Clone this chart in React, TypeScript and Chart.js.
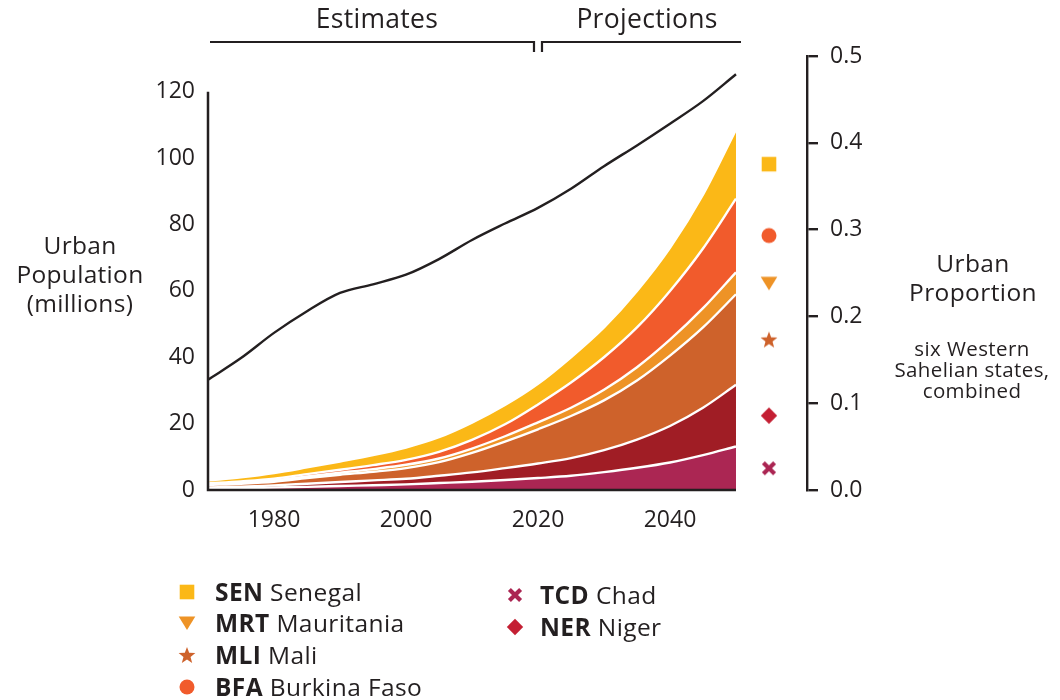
import React, { useEffect, useRef } from "react";
import { Chart, registerables } from "chart.js";

Chart.register(...registerables);

// ---------- data ----------
const years = [1970, 1975, 1980, 1985, 1990, 1995, 2000, 2005, 2010, 2015, 2020, 2025, 2030, 2035, 2040, 2045, 2050];
// urban population, millions (stacked bottom -> top)
const TCD = [0.4, 0.55, 0.75, 0.95, 1.2, 1.45, 1.7, 2.1, 2.5, 3.0, 3.6, 4.3, 5.4, 6.7, 8.3, 10.5, 13.1];
const NER = [0.4, 0.45, 0.65, 0.95, 1.2, 1.45, 1.7, 2.2, 2.8, 3.6, 4.4, 5.3, 6.6, 8.5, 11.0, 14.3, 18.6];
const MLI = [0.7, 0.9, 1.1, 1.7, 2.2, 2.6, 3.2, 4.1, 5.9, 8.0, 10.3, 12.7, 15.0, 17.8, 21.2, 24.2, 27.3];
const MRT = [0.2, 0.3, 0.4, 0.5, 0.6, 0.8, 1.0, 1.1, 1.3, 1.6, 2.1, 2.5, 3.2, 4.0, 4.8, 5.8, 6.6];
const BFA = [0.3, 0.4, 0.5, 0.7, 0.9, 1.2, 1.5, 2.0, 2.6, 3.6, 5.4, 7.6, 9.8, 12.0, 14.7, 18.0, 22.2];
const SEN = [0.8, 1.2, 1.7, 2.0, 2.5, 3.0, 3.7, 4.4, 5.2, 5.8, 6.2, 7.6, 9.0, 11.0, 13.0, 16.2, 20.8];
// urban proportion, six states combined (right axis)
const urbanProportion = [0.127, 0.152, 0.181, 0.206, 0.227, 0.237, 0.248, 0.266, 0.288, 0.307, 0.325, 0.347, 0.373, 0.397, 0.422, 0.448, 0.479];

const leftTicks = [0, 20, 40, 60, 80, 100, 120];
const rightTicks = [0, 0.1, 0.2, 0.3, 0.4, 0.5];
const xTicks = [1980, 2000, 2020, 2040];
const markerYear = 2055;

const INK = "#231f20";
const FONT = "'Open Sans', 'Noto Sans', sans-serif";

type Shape = "square" | "circle" | "triangleDown" | "star" | "diamond" | "cross";

const starPath = (() => {
  const pts: string[] = [];
  for (let i = 0; i < 10; i++) {
    const r = i % 2 === 0 ? 8.8 : 3.7;
    const a = -Math.PI / 2 + (i * Math.PI) / 5;
    pts.push(`${(r * Math.cos(a)).toFixed(2)},${(r * Math.sin(a) + 0.8).toFixed(2)}`);
  }
  return "M" + pts.join("L") + "Z";
})();

const SHAPE_PATHS: Record<Shape, string> = {
  square: "M-7.3,-7.3H7.3V7.3H-7.3Z",
  circle: "M-7.5,0A7.5,7.5 0 1,0 7.5,0A7.5,7.5 0 1,0 -7.5,0Z",
  triangleDown: "M-8.3,-6.5L8.3,-6.5L0,7Z",
  star: starPath,
  diamond: "M0,-8.2L8.2,0L0,8.2L-8.2,0Z",
  cross: "M-5.6,-5.6L5.6,5.6M5.6,-5.6L-5.6,5.6",
};

type Band = { code: string; name: string; data: number[]; fill: string; marker: string; shape: Shape };

// bottom -> top
const bands: Band[] = [
  { code: "TCD", name: "Chad", data: TCD, fill: "#AB2653", marker: "#AB2653", shape: "cross" },
  { code: "NER", name: "Niger", data: NER, fill: "#A01D25", marker: "#C41F33", shape: "diamond" },
  { code: "MLI", name: "Mali", data: MLI, fill: "#CE622B", marker: "#CE622B", shape: "star" },
  { code: "MRT", name: "Mauritania", data: MRT, fill: "#EE9326", marker: "#EE9326", shape: "triangleDown" },
  { code: "BFA", name: "Burkina Faso", data: BFA, fill: "#F15B2C", marker: "#F15B2C", shape: "circle" },
  { code: "SEN", name: "Senegal", data: SEN, fill: "#FBB817", marker: "#FBB817", shape: "square" },
];

function makeMarkerCanvas(shape: Shape, color: string): HTMLCanvasElement {
  const c = document.createElement("canvas");
  c.width = 22;
  c.height = 22;
  const ctx = c.getContext("2d")!;
  ctx.translate(11, 11);
  const p = new Path2D(SHAPE_PATHS[shape]);
  if (shape === "cross") {
    ctx.strokeStyle = color;
    ctx.lineWidth = 4.2;
    ctx.stroke(p);
  } else {
    ctx.fillStyle = color;
    ctx.fill(p);
  }
  return c;
}

function MarkerSvg({ shape, color, cx, cy }: { shape: Shape; color: string; cx: number; cy: number }) {
  return (
    <svg
      width={22}
      height={22}
      viewBox="-11 -11 22 22"
      style={{ position: "absolute", left: cx - 11, top: cy - 11 }}
    >
      {shape === "cross" ? (
        <path d={SHAPE_PATHS[shape]} stroke={color} strokeWidth={4.2} fill="none" />
      ) : (
        <path d={SHAPE_PATHS[shape]} fill={color} />
      )}
    </svg>
  );
}

const legendCol1 = ["SEN", "MRT", "MLI", "BFA"];
const legendCol2 = ["TCD", "NER"];

function TextBlock({ lines, cx, cy, size, lh, ls }: { lines: string[]; cx: number; cy: number; size: number; lh: number; ls?: number }) {
  return (
    <div
      style={{
        position: "absolute",
        left: cx - 150,
        width: 300,
        top: cy - lh / 2,
        textAlign: "center",
        fontFamily: FONT,
        fontSize: size,
        lineHeight: `${lh}px`,
        letterSpacing: ls ?? 0,
        color: INK,
        whiteSpace: "nowrap",
      }}
    >
      {lines.map((l, i) => (
        <div key={i}>{l}</div>
      ))}
    </div>
  );
}

export default function App() {
  const ref = useRef<HTMLCanvasElement>(null);

  useEffect(() => {
    const canvas = ref.current!;
    const pts = (arr: number[]) => years.map((x, i) => ({ x, y: arr[i] }));
    const last = years.length - 1;

    const areaSets = bands.map((b, i) => ({
      type: "line" as const,
      label: b.code,
      data: pts(b.data),
      yAxisID: "y",
      backgroundColor: b.fill,
      borderColor: "#ffffff",
      borderWidth: 2.4,
      fill: i === 0 ? "origin" : "-1",
      pointRadius: 0,
      cubicInterpolationMode: "monotone" as const,
    }));

    // marker positions: middle of each band at the last year
    let below = 0;
    const markerPts: { x: number; y: number }[] = [];
    const markerImgs: HTMLCanvasElement[] = [];
    bands.forEach((b) => {
      const v = b.data[last];
      markerPts.push({ x: markerYear, y: below + v / 2 });
      markerImgs.push(makeMarkerCanvas(b.shape, b.marker));
      below += v;
    });

    const axisPlugin = {
      id: "customAxes",
      afterDraw(chart: any) {
        const { ctx, scales } = chart;
        const x = scales.x;
        const y = scales.y;
        ctx.save();
        ctx.strokeStyle = INK;
        ctx.lineWidth = 2.5;
        ctx.lineCap = "butt";
        ctx.beginPath();
        const x0 = x.getPixelForValue(years[0]);
        ctx.moveTo(x0, y.getPixelForValue(leftTicks[leftTicks.length - 1]));
        ctx.lineTo(x0, y.getPixelForValue(0));
        ctx.lineTo(x.getPixelForValue(years[last]), y.getPixelForValue(0));
        ctx.stroke();
        // estimates / projections bracket
        const xs = x.getPixelForValue(2020);
        const top = 42;
        ctx.lineWidth = 2.2;
        ctx.beginPath();
        ctx.moveTo(x0 + 2, top);
        ctx.lineTo(xs - 4, top);
        ctx.lineTo(xs - 4, top + 10);
        ctx.moveTo(xs + 4, top + 10);
        ctx.lineTo(xs + 4, top);
        ctx.lineTo(x.getPixelForValue(years[last]) + 5, top);
        ctx.stroke();
        ctx.restore();
      },
    };

    const tickFont = { family: FONT, size: 23 };

    const chart = new Chart(canvas, {
      type: "line",
      data: {
        datasets: [
          ...areaSets,
          {
            type: "line",
            label: "Urban proportion",
            data: pts(urbanProportion),
            yAxisID: "y1",
            borderColor: INK,
            borderWidth: 2.4,
            fill: false,
            pointRadius: 0,
            cubicInterpolationMode: "monotone",
            order: -1,
          },
          {
            type: "line",
            label: "markers",
            data: markerPts,
            yAxisID: "ym",
            showLine: false,
            fill: false,
            pointRadius: 8,
            pointStyle: markerImgs as any,
            order: -2,
          },
        ] as any,
      },
      options: {
        responsive: false,
        animation: false,
        devicePixelRatio: 1,
        events: [],
        layout: { padding: { top: 56, left: 0, right: 0, bottom: 0 } },
        plugins: { legend: { display: false }, tooltip: { enabled: false } },
        scales: {
          x: {
            type: "linear",
            min: 1970,
            max: 2060.76,
            grid: { display: false, drawTicks: false },
            border: { display: false },
            afterBuildTicks: (s: any) => {
              s.ticks = xTicks.map((v) => ({ value: v }));
            },
            afterFit: (s: any) => {
              s.height = 210;
            },
            ticks: {
              font: tickFont,
              color: INK,
              padding: 17,
              maxRotation: 0,
              autoSkip: false,
              callback: (v: any) => String(v),
            },
          },
          y: {
            type: "linear",
            position: "left",
            stacked: true,
            min: 0,
            max: 130.8,
            grid: { display: false, drawTicks: false },
            border: { display: false },
            afterBuildTicks: (s: any) => {
              s.ticks = leftTicks.map((v) => ({ value: v }));
            },
            afterFit: (s: any) => {
              s.width = 208;
            },
            ticks: { font: tickFont, color: INK, padding: 13, callback: (v: any) => String(v) },
          },
          y1: {
            type: "linear",
            position: "right",
            min: 0,
            max: 0.5,
            grid: { display: true, drawOnChartArea: false, drawTicks: true, tickLength: 11, color: INK, lineWidth: 2.4 },
            border: { display: true, color: INK, width: 2.4 },
            afterBuildTicks: (s: any) => {
              s.ticks = rightTicks.map((v) => ({ value: v }));
            },
            afterFit: (s: any) => {
              s.width = 253;
            },
            ticks: { font: tickFont, color: INK, padding: 12, callback: (v: any) => Number(v).toFixed(1) },
          },
          ym: { type: "linear", display: false, min: 0, max: 130.8 },
        },
      } as any,
      plugins: [axisPlugin],
    });

    return () => chart.destroy();
  }, []);

  const byCode = (c: string) => bands.find((b) => b.code === c)!;
  const col1Y = [592, 623, 655, 687];
  const col2Y = [595, 627];

  const legendItem = (code: string, mx: number, tx: number, y: number) => {
    const b = byCode(code);
    return (
      <React.Fragment key={code}>
        <MarkerSvg shape={b.shape} color={b.marker} cx={mx} cy={y} />
        <div
          style={{
            position: "absolute",
            left: tx,
            top: y - 16,
            lineHeight: "32px",
            fontFamily: FONT,
            fontSize: 24.5,
            letterSpacing: 0.4,
            color: INK,
            whiteSpace: "nowrap",
          }}
        >
          <span style={{ fontWeight: 700 }}>{b.code}</span> {b.name}
        </div>
      </React.Fragment>
    );
  };

  return (
    <div
      style={{
        position: "fixed",
        left: 0,
        top: 0,
        width: 1060,
        height: 700,
        background: "#ffffff",
        overflow: "hidden",
      }}
    >
      <canvas ref={ref} width={1060} height={700} style={{ position: "absolute", left: 0, top: 0, width: 1060, height: 700 }} />
      <TextBlock lines={["Estimates"]} cx={377} cy={18} size={26.5} lh={32} ls={0.3} />
      <TextBlock lines={["Projections"]} cx={647} cy={18} size={26.5} lh={32} ls={0.3} />
      <TextBlock lines={["Urban", "Population", "(millions)"]} cx={80} cy={244} size={24.5} lh={29} ls={0.3} />
      <TextBlock lines={["Urban", "Proportion"]} cx={973} cy={262} size={24.5} lh={29} ls={0.4} />
      <TextBlock lines={["six Western", "Sahelian states,", "combined"]} cx={972} cy={348} size={20.5} lh={21} ls={0.4} />
      {legendCol1.map((c, i) => legendItem(c, 187, 215, col1Y[i]))}
      {legendCol2.map((c, i) => legendItem(c, 515, 540, col2Y[i]))}
    </div>
  );
}
